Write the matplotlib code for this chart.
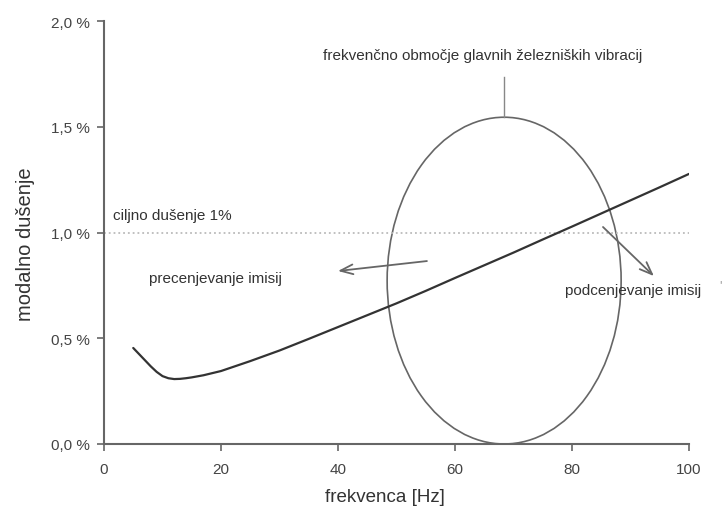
import matplotlib
matplotlib.use("Agg")
import matplotlib.pyplot as plt
from matplotlib.patches import Ellipse

plt.rcParams['font.family'] = ['Liberation Sans', 'DejaVu Sans']

# data
freq = [5, 6, 7, 8, 9, 10, 11, 12, 13, 14, 15, 17, 20, 25, 30, 35, 40, 45, 50,
        55, 60, 65, 70, 75, 80, 85, 90, 95, 100]
damping = [0.454, 0.425, 0.396, 0.367, 0.341, 0.321, 0.311, 0.307, 0.308,
           0.311, 0.315, 0.325, 0.345, 0.392, 0.442, 0.497, 0.553, 0.609,
           0.665, 0.724, 0.785, 0.845, 0.905, 0.967, 1.028, 1.090, 1.152,
           1.214, 1.277]
x_ticks = [0, 20, 40, 60, 80, 100]
x_ticklabels = ['0', '20', '40', '60', '80', '100']
y_ticks = [0.0, 0.5, 1.0, 1.5, 2.0]
y_ticklabels = ['0,0 %', '0,5 %', '1,0 %', '1,5 %', '2,0 %']
target_damping = 1.0
ellipse_center = (68.4, 0.7725)
ellipse_size = (40.0, 1.545)
ellipse_stem_top = 1.735

fig = plt.figure(figsize=(7.23, 5.10), dpi=100)
ax = fig.add_axes([104/723, 65/510, (689-104)/723, (445-22)/510])

ax.set_xlim(0, 100)
ax.set_ylim(0, 2.0)

for s in ['top', 'right']:
    ax.spines[s].set_visible(False)
for s in ['left', 'bottom']:
    ax.spines[s].set_color('#666666')
    ax.spines[s].set_linewidth(1.5)

ax.set_xticks(x_ticks)
ax.set_xticklabels(x_ticklabels)
ax.set_yticks(y_ticks)
ax.set_yticklabels(y_ticklabels)
ax.tick_params(axis='both', colors='#666666', labelcolor='#444444',
               labelsize=11, width=1.2, length=5, direction='out')
ax.tick_params(axis='y', pad=5)
ax.tick_params(axis='x', pad=8)

ax.set_xlabel('frekvenca [Hz]', fontsize=13.5, color='#333333')
ax.set_ylabel('modalno dušenje', fontsize=14.5, color='#333333')
ax.xaxis.set_label_coords(0.481, -0.105)
ax.yaxis.set_label_coords(-0.118, 0.474)

# target damping line
ax.axhline(target_damping, color='#bbbbbb', linestyle=':', linewidth=1.3)

# main curve
ax.plot(freq, damping, color='#333333', linewidth=1.6, solid_capstyle='round',
        solid_joinstyle='round')

# ellipse
ell = Ellipse(ellipse_center, ellipse_size[0], ellipse_size[1], fill=False,
              edgecolor='#666666', linewidth=1.2)
ax.add_patch(ell)
top_y = ellipse_center[1] + ellipse_size[1] / 2
ax.plot([ellipse_center[0], ellipse_center[0]], [top_y, ellipse_stem_top],
        color='#888888', linewidth=1.0)

# texts
tc = '#333333'
ax.text(64.8, 1.84, 'frekvenčno območje glavnih železniških vibracij',
        ha='center', va='center', fontsize=11, color=tc)
ax.text(1.5, 1.083, 'ciljno dušenje 1%', ha='left', va='center',
        fontsize=11, color=tc)
ax.text(7.7, 0.785, 'precenjevanje imisij', ha='left', va='center',
        fontsize=11, color=tc)
ax.text(78.8, 0.728, 'podcenjevanje imisij', ha='left', va='center',
        fontsize=11, color=tc)
fig.text(720/723, 1 - 286/510, "'", ha='center', va='center',
         fontsize=9, color='#999999')

# arrows
arrow_kw = dict(arrowstyle='->,head_length=0.9,head_width=0.35',
                color='#666666', lw=1.3, shrinkA=0, shrinkB=0)
ax.annotate('', xy=(40.0, 0.818), xytext=(55.2, 0.865), arrowprops=arrow_kw)
ax.annotate('', xy=(94.0, 0.794), xytext=(85.3, 1.026), arrowprops=arrow_kw)

fig.savefig('out.png', dpi=100)
